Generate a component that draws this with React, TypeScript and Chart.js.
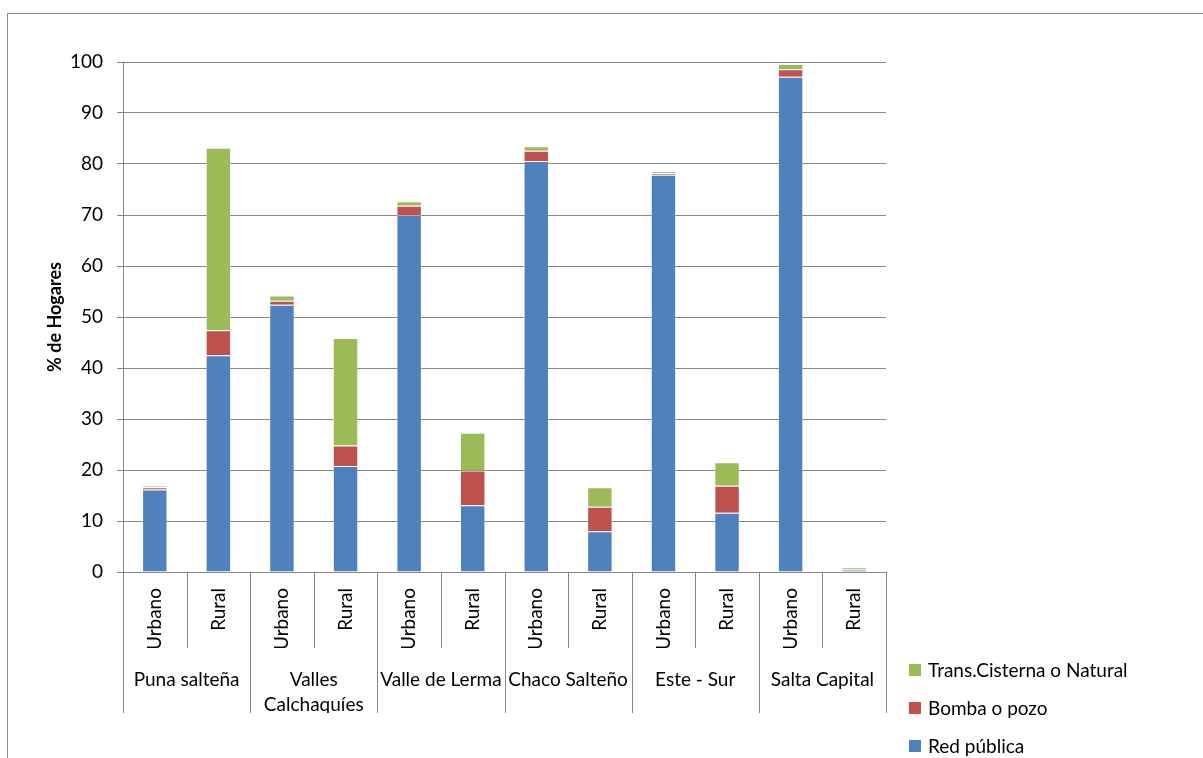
import React, { useEffect, useRef } from 'react';
import { Chart, registerables } from 'chart.js';

Chart.register(...registerables);

// ---- data ----
const areaLabels = ['Urbano', 'Rural', 'Urbano', 'Rural', 'Urbano', 'Rural', 'Urbano', 'Rural', 'Urbano', 'Rural', 'Urbano', 'Rural'];
const groupLabels: (string | string[])[] = ['Puna salteña', ['Valles', 'Calchaquíes'], 'Valle de Lerma', 'Chaco Salteño', 'Este - Sur', 'Salta Capital'];
const redPublica = [16.2, 42.5, 52.4, 20.8, 70.0, 13.1, 80.6, 8.0, 77.9, 11.6, 97.1, 0.5];
const bombaPozo = [0.4, 4.9, 0.8, 4.0, 1.8, 6.8, 2.0, 4.8, 0.3, 5.3, 1.5, 0.1];
const transCisterna = [0.3, 35.8, 1.0, 21.1, 0.9, 7.4, 0.9, 3.8, 0.4, 4.6, 1.0, 0.3];
const seriesNames = ['Red pública', 'Bomba o pozo', 'Trans.Cisterna o Natural'];
const yMin = 0;
const yMax = 100;
const yStep = 10;

const COLORS = ['#4F81BD', '#C0504D', '#9BBB59'];
const GRID = '#878787';
const FONT = 'Lato, "Open Sans", sans-serif';

const separatorPlugin = {
  id: 'separators',
  afterDraw(chart: any) {
    const xs = chart.scales.x;
    const x2 = chart.scales.x2;
    const ctx = chart.ctx;
    const n = areaLabels.length;
    ctx.save();
    ctx.strokeStyle = GRID;
    ctx.lineWidth = 1;
    for (let i = 0; i <= n; i++) {
      let x: number;
      if (i === 0) x = xs.left;
      else if (i === n) x = xs.right;
      else x = (xs.getPixelForValue(i - 1) + xs.getPixelForValue(i)) / 2;
      x = Math.round(x) + 0.5;
      const bottom = i % 2 === 0 ? x2.bottom : xs.bottom;
      ctx.beginPath();
      ctx.moveTo(x, xs.top);
      ctx.lineTo(x, bottom);
      ctx.stroke();
    }
    ctx.restore();
  },
};

const legendPlugin = {
  id: 'customLegend',
  afterDraw(chart: any) {
    const ctx = chart.ctx;
    const area = chart.chartArea;
    const ds = chart.data.datasets;
    ctx.save();
    ctx.font = `19px ${FONT}`;
    ctx.textBaseline = 'middle';
    ctx.textAlign = 'left';
    const x = area.right + 23;
    let y = area.bottom + 98;
    for (let i = ds.length - 1; i >= 0; i--) {
      ctx.fillStyle = ds[i].backgroundColor;
      ctx.fillRect(x, y - 6, 12, 12);
      ctx.fillStyle = '#000';
      ctx.fillText(ds[i].label, x + 19, y + 1);
      y += 38;
    }
    ctx.restore();
  },
};

export default function App() {
  const ref = useRef<HTMLCanvasElement | null>(null);

  useEffect(() => {
    document.body.style.margin = '0';
    if (!ref.current) return;
    const values = [redPublica, bombaPozo, transCisterna];
    const chart = new Chart(ref.current, {
      type: 'bar',
      data: {
        labels: areaLabels,
        datasets: values.map((v, i) => ({
          label: seriesNames[i],
          data: v,
          backgroundColor: COLORS[i],
          borderColor: 'rgba(255,255,255,0.3)',
          borderWidth: 1,
          xAxisID: 'x',
          categoryPercentage: 1,
          barPercentage: 0.4,
        })),
      },
      options: {
        animation: false,
        responsive: false,
        maintainAspectRatio: false,
        layout: { padding: { left: 0, top: 62, right: 317, bottom: 45 } },
        plugins: {
          legend: { display: false },
          tooltip: { enabled: false },
        },
        scales: {
          x: {
            stacked: true,
            offset: true,
            grid: { display: false, drawTicks: false },
            border: { display: true, color: GRID },
            ticks: {
              autoSkip: false,
              minRotation: 90,
              maxRotation: 90,
              padding: 16,
              color: '#000',
              font: { family: FONT, size: 19 },
            },
            afterFit: (s: any) => { s.height = 76; },
          },
          x2: {
            type: 'category',
            position: 'bottom',
            labels: groupLabels as any,
            offset: true,
            weight: 1,
            grid: { display: false, drawTicks: false },
            border: { display: false },
            ticks: {
              autoSkip: false,
              maxRotation: 0,
              minRotation: 0,
              padding: 20,
              color: '#000',
              font: { family: FONT, size: 19, lineHeight: 1.3 },
            },
            afterFit: (s: any) => { s.height = 65; },
          },
          y: {
            stacked: true,
            min: yMin,
            max: yMax,
            grid: { color: GRID, tickLength: 6 },
            border: { color: GRID },
            ticks: {
              stepSize: yStep,
              padding: 14,
              color: '#000',
              font: { family: FONT, size: 19 },
            },
            title: {
              display: true,
              text: '% de Hogares',
              color: '#000',
              font: { family: FONT, size: 18, weight: 'bold' },
              padding: { top: 44, bottom: 0 },
            },
            afterFit: (s: any) => { s.width = 123; },
          },
        },
      } as any,
      plugins: [separatorPlugin, legendPlugin],
    });
    return () => chart.destroy();
  }, []);

  return (
    <div style={{ position: 'relative', width: 1203, height: 758, overflow: 'hidden', background: '#fff' }}>
      <canvas ref={ref} width={1203} height={758} style={{ position: 'absolute', left: 0, top: 0, width: 1203, height: 758 }} />
      <div
        style={{
          position: 'absolute',
          left: 7,
          top: 13,
          width: 1300,
          height: 900,
          borderTop: '1px solid #8c8c8c',
          borderLeft: '1px solid #8c8c8c',
          pointerEvents: 'none',
        }}
      />
    </div>
  );
}
